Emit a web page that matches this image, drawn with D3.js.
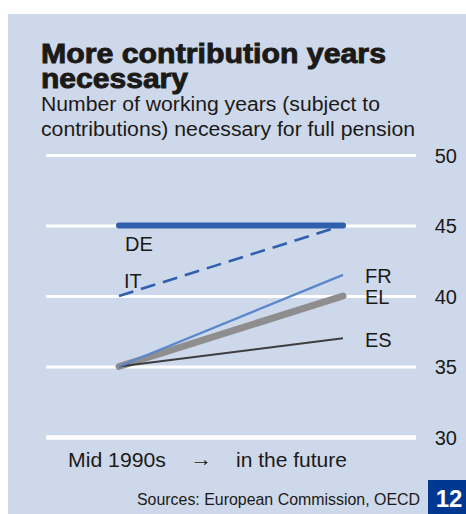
<!DOCTYPE html>
<html>
<head>
<meta charset="utf-8">
<script src="https://cdn.jsdelivr.net/npm/d3@7"></script>
<style>
  html, body { margin: 0; padding: 0; background: #ffffff; }
  svg { display: block; }
  text { font-family: "Liberation Sans", Arial, sans-serif; }
</style>
</head>
<body>
<svg id="chart" width="466" height="514"></svg>
<script>
// Required contribution years for a full pension
const countries = ["DE", "IT", "FR", "EL", "ES"];
const periods = ["Mid 1990s", "in the future"];
const mid1990s = [45, 40, 35, 35, 35];
const future = [45, 45, 41.5, 40, 37];
const yTicks = [30, 35, 40, 45, 50];

const title = ["More contribution years", "necessary"];
const subtitle = ["Number of working years (subject to", "contributions) necessary for full pension"];
const source = "Sources: European Commission, OECD";
const pageNo = "12";

// Line styles per country
const style = {
  DE: { color: "#2f5fad", width: 6, dash: null, cap: "round", lx: 6, ly: 25, anchor: "start", at: 0 },
  IT: { color: "#2f5fad", width: 2.6, dash: "15,8", cap: "butt", lx: 5, ly: -8, anchor: "start", at: 0 },
  FR: { color: "#5b87cc", width: 2.4, dash: null, cap: "butt", lx: 22, ly: 8, anchor: "start", at: 1 },
  EL: { color: "#8e8e8e", width: 7, dash: null, cap: "round", lx: 22, ly: 8, anchor: "start", at: 1 },
  ES: { color: "#3d3d3d", width: 2, dash: null, cap: "butt", lx: 22, ly: 9, anchor: "start", at: 1 }
};
const drawOrder = ["EL", "ES", "FR", "IT", "DE"];
const ink = "#1c1a18";

const svg = d3.select("#chart");

// Panel background
svg.append("rect").attr("x", 8).attr("y", 14).attr("width", 458).attr("height", 500).attr("fill", "#cdd8ea");

// Title
svg.append("g").selectAll("text").data(title).join("text")
  .attr("x", 41).attr("y", (d, i) => 63 + i * 25)
  .attr("font-size", 27).attr("font-weight", 700)
  .attr("fill", ink).attr("stroke", ink).attr("stroke-width", 0.9)
  .attr("textLength", (d, i) => i === 0 ? 345 : 147)
  .attr("lengthAdjust", "spacingAndGlyphs")
  .text(d => d);

// Subtitle
svg.append("g").selectAll("text").data(subtitle).join("text")
  .attr("x", 41).attr("y", (d, i) => 111 + i * 25)
  .attr("font-size", 20).attr("fill", ink)
  .attr("textLength", (d, i) => i === 0 ? 339 : 374)
  .attr("lengthAdjust", "spacingAndGlyphs")
  .text(d => d);

// Scales
const x = d3.scalePoint().domain(periods).range([119, 343]);
const y = d3.scaleLinear().domain([30, 50]).range([437, 155]);

// Gridlines and right-hand value labels
const axis = d3.axisRight(y).tickValues(yTicks).tickSize(370).tickPadding(17).tickFormat(d3.format("d"));
const axisG = svg.append("g").attr("transform", "translate(46,0)").call(axis);
axisG.select(".domain").remove();
axisG.selectAll(".tick line")
  .attr("stroke", "#ffffff")
  .attr("stroke-width", d => d === 30 ? 4.5 : 2.8);
axisG.selectAll(".tick text")
  .attr("x", 411).attr("text-anchor", "end").attr("dy", "0.36em")
  .attr("font-size", 20).attr("fill", ink)
  .attr("font-family", "Liberation Sans, Arial, sans-serif");

// Country lines
const rows = countries.map((c, i) => ({ c, vals: [mid1990s[i], future[i]] }));
const byC = Object.fromEntries(rows.map(r => [r.c, r]));
const line = d3.line().x((d, i) => x(periods[i])).y(d => y(d));

svg.append("g").selectAll("path").data(drawOrder.map(c => byC[c])).join("path")
  .attr("d", d => line(d.vals))
  .attr("fill", "none")
  .attr("stroke", d => style[d.c].color)
  .attr("stroke-width", d => style[d.c].width)
  .attr("stroke-dasharray", d => style[d.c].dash)
  .attr("stroke-linecap", d => style[d.c].cap);

// Country labels
svg.append("g").selectAll("text").data(rows).join("text")
  .attr("x", d => x(periods[style[d.c].at]) + style[d.c].lx)
  .attr("y", d => y(d.vals[style[d.c].at]) + style[d.c].ly)
  .attr("text-anchor", d => style[d.c].anchor)
  .attr("font-size", 20).attr("fill", ink)
  .text(d => d.c);

// Period captions under the chart
const captionY = 467;
svg.append("text").attr("x", 68).attr("y", captionY).attr("font-size", 20.5).attr("fill", ink)
  .attr("textLength", 98).attr("lengthAdjust", "spacingAndGlyphs").text(periods[0]);
svg.append("text").attr("x", 190).attr("y", captionY - 1).attr("font-size", 20).attr("fill", ink)
  .attr("textLength", 22).attr("lengthAdjust", "spacingAndGlyphs").text("\u2192");
svg.append("text").attr("x", 236).attr("y", captionY).attr("font-size", 20.5).attr("fill", ink)
  .attr("textLength", 111).attr("lengthAdjust", "spacingAndGlyphs").text(periods[1]);

// Source note
svg.append("text").attr("x", 137).attr("y", 505)
  .attr("font-size", 16).attr("fill", ink)
  .attr("textLength", 283).attr("lengthAdjust", "spacingAndGlyphs").text(source);

// Page number tag
svg.append("rect").attr("x", 428).attr("y", 480).attr("width", 38).attr("height", 34).attr("fill", "#003790");
svg.append("text").attr("x", 449).attr("y", 507).attr("text-anchor", "middle")
  .attr("font-size", 24).attr("font-weight", 700).attr("fill", "#ffffff").text(pageNo);
</script>
</body>
</html>
